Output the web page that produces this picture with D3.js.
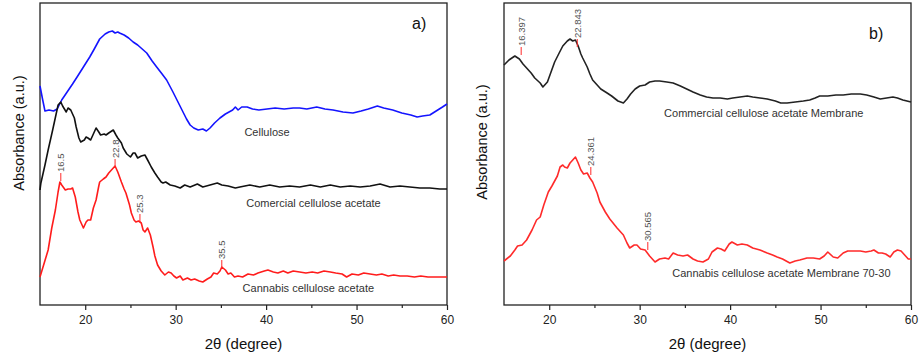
<!DOCTYPE html>
<html>
<head>
<meta charset="utf-8">
<script src="https://cdn.jsdelivr.net/npm/d3@7"></script>
<style>
  body { margin: 0; background: #fff; }
  svg text { font-family: "Liberation Sans", Arial, sans-serif; }
</style>
</head>
<body>
<div id="chart"></div>
<script>
// 2theta (degree) vs absorbance (a.u.)
const cellulose = [[15.0,219],[15.3,205],[15.55,194],[16.0,195],[16.5,194],[16.9,196],[17.4,205],[18.0,213],[18.6,221],[19.1,228],[19.8,238],[20.5,248],[21.0,256],[21.6,266],[22.2,271],[22.6,273],[23.0,274],[23.3,272],[23.6,273],[23.8,272],[24.3,270],[24.8,267],[25.3,263],[25.8,260],[26.3,256],[26.8,252],[27.4,244],[27.9,238],[28.5,231],[29.0,225],[29.7,213],[30.2,204],[30.7,195],[31.2,186],[31.6,180],[32.0,177],[32.5,175],[33.0,176],[33.4,174],[33.8,177],[34.3,182],[34.9,187],[35.5,191],[36.3,195],[36.6,198],[36.9,195],[37.3,198],[37.9,198],[38.5,196],[39.2,195],[40.1,196],[41.0,197],[42.0,196],[43.0,197],[43.7,197],[44.5,196],[45.6,198],[46.5,196],[47.4,195],[48.5,193],[49.6,192],[50.5,194],[51.3,196],[52.3,199],[53.0,197],[54.0,195],[55.0,192],[56.0,190],[56.7,188],[57.3,189],[58.1,190],[58.8,194],[59.5,198],[60.0,201]];

const commercialCA = [[15.0,115],[15.1,122],[15.55,140],[15.9,155],[16.4,175],[17.0,200],[17.3,203],[17.5,199],[17.9,193],[18.1,197],[18.4,195],[18.8,187],[19.0,178],[19.3,167],[19.5,163],[19.9,165],[20.1,168],[20.3,167],[20.6,165],[21.0,173],[21.2,177],[21.5,173],[21.7,170],[22.1,171],[22.3,170],[22.6,172],[23.1,175],[23.4,170],[23.6,167],[24.0,162],[24.2,157],[24.6,151],[25.0,148],[25.3,152],[25.5,152],[25.8,147],[26.2,149],[26.6,150],[26.9,145],[27.3,138],[27.7,132],[28.0,128],[28.4,123],[28.6,122],[28.9,123],[29.4,120],[29.9,119],[30.5,117],[31.0,120],[31.6,118],[32.4,121],[33.0,118],[33.8,120],[34.6,122],[35.1,120],[35.8,119],[36.6,117],[37.1,118],[38.2,120],[39.3,118],[40.4,120],[41.5,118],[42.6,119],[43.7,118],[44.9,120],[46.0,118],[47.1,120],[48.2,118],[49.3,119],[50.4,118],[51.5,119],[52.6,121],[53.7,118],[54.8,119],[55.9,118],[57.0,117],[58.1,117],[59.2,116],[60.0,116]];

const cannabisCA = [[15.0,28],[15.4,40],[15.9,55],[16.3,77],[16.7,95],[17.0,113],[17.2,123],[17.4,120],[17.8,115],[18.1,116],[18.4,116],[18.6,117],[18.9,108],[19.2,93],[19.4,85],[19.8,77],[20.1,83],[20.3,85],[20.6,85],[20.9,97],[21.2,105],[21.5,119],[21.6,123],[22.0,126],[22.3,128],[22.6,132],[23.0,136],[23.3,139],[23.6,133],[24.0,123],[24.3,116],[24.5,112],[24.9,100],[25.1,92],[25.4,85],[25.6,83],[25.9,84],[26.2,82],[26.4,75],[26.6,73],[26.9,77],[27.2,70],[27.5,58],[27.7,49],[28.0,40],[28.4,34],[28.8,30],[29.2,33],[29.5,32],[29.8,29],[30.1,27],[30.5,29],[30.8,25],[31.3,27],[31.7,25],[32.1,26],[32.6,24],[33.0,23],[33.5,26],[33.9,28],[34.2,32],[34.6,31],[34.9,34],[35.1,38],[35.5,35],[35.8,31],[36.1,32],[36.5,28],[36.9,29],[37.4,28],[38.0,31],[38.6,30],[39.1,32],[39.8,34],[40.2,35],[40.8,33],[41.3,32],[41.9,34],[42.4,32],[43.0,34],[43.7,33],[44.4,32],[45.1,33],[45.7,32],[46.4,34],[47.1,33],[47.7,32],[48.4,31],[48.9,28],[49.5,31],[50.2,30],[50.8,32],[51.5,31],[52.2,30],[52.8,31],[53.5,29],[54.1,30],[54.8,29],[55.6,29],[56.4,28],[57.1,29],[57.9,28],[58.7,28],[59.3,28],[60.0,28]];

const commercialMembrane = [[15.0,240],[15.55,245],[16.2,249],[16.7,246],[17.1,241],[17.5,237],[18.0,232],[18.4,227],[19.0,222],[19.3,218],[19.8,223],[20.2,233],[20.6,243],[21.1,252],[21.5,259],[22.0,264],[22.3,266],[22.6,264],[22.9,265],[23.2,259],[23.5,251],[23.7,247],[24.2,238],[24.5,231],[24.8,225],[25.3,220],[25.7,216],[26.4,212],[26.9,209],[27.6,204],[28.2,202],[28.6,206],[29.0,211],[29.5,216],[30.0,219],[30.6,220],[31.1,223],[31.7,224],[32.2,224],[33.0,223],[33.7,222],[34.5,219],[35.2,216],[35.9,213],[36.7,210],[37.4,208],[38.1,207],[38.9,207],[39.7,206],[40.3,207],[41.1,208],[41.9,209],[42.5,208],[43.3,207],[44.1,206],[45.0,204],[45.6,202],[46.3,202],[47.2,203],[48.1,204],[48.8,205],[49.4,207],[49.9,209],[50.8,209],[51.7,210],[52.5,210],[53.4,211],[54.4,211],[55.1,210],[55.9,208],[56.6,206],[57.3,207],[58.0,208],[58.5,207],[59.1,205],[60.0,203]];

const cannabisMembrane = [[15.0,44],[15.7,49],[16.2,55],[16.5,59],[17.0,60],[17.5,65],[18.1,75],[18.6,85],[19.0,88],[19.4,100],[19.9,113],[20.3,119],[20.9,129],[21.2,138],[21.5,140],[21.7,138],[22.0,137],[22.3,142],[22.6,145],[22.9,148],[23.2,142],[23.5,135],[23.8,131],[24.2,132],[24.5,127],[24.8,123],[25.3,112],[25.6,103],[26.2,93],[26.7,86],[27.5,77],[28.2,70],[28.6,62],[28.9,57],[29.4,60],[29.7,60],[30.1,56],[30.6,55],[31.1,49],[31.7,43],[32.2,46],[32.8,47],[33.2,46],[33.7,52],[34.2,50],[34.8,49],[35.3,50],[35.9,46],[36.4,44],[37.0,43],[37.6,46],[38.0,53],[38.6,57],[39.0,56],[39.4,54],[39.9,61],[40.2,63],[40.8,60],[41.3,61],[41.9,60],[42.5,57],[43.3,55],[44.1,52],[44.7,50],[45.2,48],[45.8,46],[46.6,42],[47.2,44],[47.7,45],[48.5,47],[49.2,47],[49.9,46],[50.4,49],[50.8,53],[51.4,48],[51.9,47],[52.5,52],[53.0,54],[53.8,54],[54.4,54],[55.0,53],[55.6,54],[55.9,55],[56.4,52],[56.8,52],[57.2,51],[57.7,48],[58.1,53],[58.5,55],[58.9,54],[59.3,50],[59.7,46],[60.0,46]];

// peak markers: [label, 2theta, value at tick foot]
const peaksA = [["16.5",17.3,124],["22.8",23.3,138],["25.3",26.05,83],["35.5",35.1,37]];
const peaksB = [["16.397",16.9,250],["22.843",23.1,258],["24.361",24.6,130],["30.565",30.9,55]];

const majorTicks = [20, 30, 40, 50, 60];
const minorTicks = [25, 35, 45, 55];

const W = 920, H = 355;
const svg = d3.select("#chart").append("svg")
    .attr("width", W)
    .attr("height", H);

function panel(left, right, series, peaks, notes, tag) {
    const top = 3, bottom = 305;
    const x = d3.scaleLinear().domain([15, 60]).range([left, right]);
    const y = d3.scaleLinear().domain([0, 302]).range([bottom, top]);
    const g = svg.append("g");

    // frame
    g.append("rect")
        .attr("x", left).attr("y", top)
        .attr("width", right - left).attr("height", bottom - top)
        .attr("fill", "none")
        .attr("stroke", "#222")
        .attr("stroke-width", 1.3);

    // x axis, major + minor
    const ax = g.append("g")
        .attr("transform", `translate(0,${bottom})`)
        .call(d3.axisBottom(x).tickValues(majorTicks).tickSize(5).tickPadding(5).tickFormat(d3.format("d")));
    ax.select(".domain").remove();
    ax.selectAll("line").attr("stroke", "#222").attr("stroke-width", 1.2);
    ax.selectAll("text").attr("font-size", 12).attr("fill", "#222")
        .attr("font-family", "Liberation Sans, Arial, sans-serif");

    const axm = g.append("g")
        .attr("transform", `translate(0,${bottom})`)
        .call(d3.axisBottom(x).tickValues(minorTicks).tickSize(3).tickFormat(""));
    axm.select(".domain").remove();
    axm.selectAll("line").attr("stroke", "#222").attr("stroke-width", 1.2);

    // curves
    const line = d3.line().x(d => x(d[0])).y(d => y(d[1]));
    series.forEach(s => {
        g.append("path")
            .datum(s.data)
            .attr("fill", "none")
            .attr("stroke", s.color)
            .attr("stroke-width", 1.6)
            .attr("stroke-linejoin", "round")
            .attr("d", line);
    });

    // peak labels
    peaks.forEach(p => {
        const px = x(p[1]), py = y(p[2]);
        g.append("line")
            .attr("x1", px).attr("x2", px)
            .attr("y1", py).attr("y2", py - 8)
            .attr("stroke", "#ff2a2a")
            .attr("stroke-width", 1);
        g.append("text")
            .attr("transform", `translate(${px + 3.5},${py - 9}) rotate(-90)`)
            .attr("font-size", 9.5)
            .attr("fill", "#555")
            .text(p[0]);
    });

    // curve names
    notes.forEach(n => {
        g.append("text")
            .attr("x", x(n[1])).attr("y", y(n[2]))
            .attr("font-size", 11)
            .attr("fill", "#333")
            .text(n[0]);
    });

    // panel tag
    g.append("text")
        .attr("x", tag[1]).attr("y", tag[2])
        .attr("font-size", 16)
        .attr("fill", "#111")
        .text(tag[0]);

    // axis titles
    g.append("text")
        .attr("x", (left + right) / 2).attr("y", 349)
        .attr("text-anchor", "middle")
        .attr("font-size", 15)
        .attr("fill", "#111")
        .text("2θ (degree)");
    return {x, y};
}

panel(40, 447,
    [{data: cellulose, color: "#1414ff"},
     {data: commercialCA, color: "#111"},
     {data: cannabisCA, color: "#ff1c1c"}],
    peaksA,
    [["Cellulose", 37.6, 169], ["Comercial cellulose acetate", 37.8, 98], ["Cannabis cellulose acetate", 37.4, 13]],
    ["a)", 412, 29]);

panel(504, 911,
    [{data: commercialMembrane, color: "#222"},
     {data: cannabisMembrane, color: "#ff2a2a"}],
    peaksB,
    [["Commercial cellulose acetate Membrane", 32.7, 188], ["Cannabis cellulose acetate Membrane 70-30", 33.6, 28]],
    ["b)", 869, 39]);

svg.append("text")
    .attr("transform", "translate(24,133) rotate(-90)")
    .attr("text-anchor", "middle")
    .attr("font-size", 14.5)
    .attr("fill", "#111")
    .text("Absorbance (a.u.)");

svg.append("text")
    .attr("transform", "translate(487,142) rotate(-90)")
    .attr("text-anchor", "middle")
    .attr("font-size", 14.5)
    .attr("fill", "#111")
    .text("Absorbance (a.u.)");
</script>
</body>
</html>
